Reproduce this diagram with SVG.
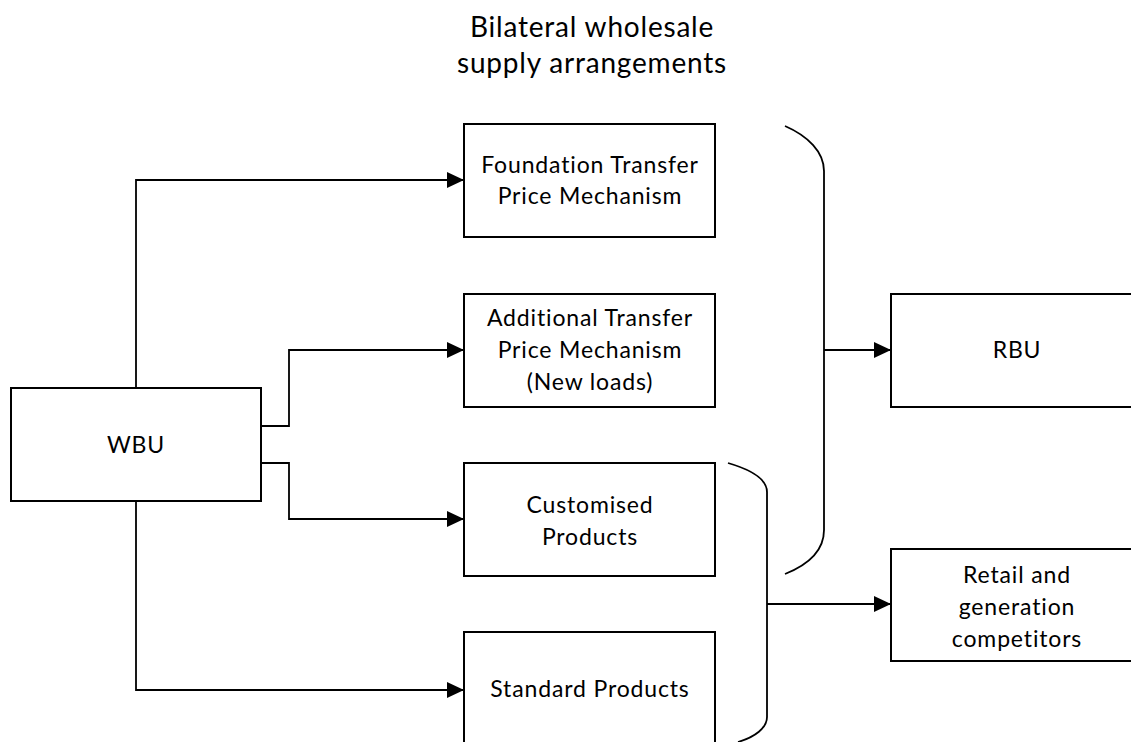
<svg xmlns="http://www.w3.org/2000/svg" width="1131" height="742" viewBox="0 0 1131 742">
<style>
.box{fill:#fff;stroke:#000;stroke-width:2}
.t{font-family:Lato,"Open Sans","Liberation Sans",sans-serif;font-size:23px;letter-spacing:0.85px;fill:#000;text-anchor:middle}
.title{font-size:28px;letter-spacing:0.8px}
.c{fill:none;stroke:#000;stroke-width:1.8}
</style>
<rect width="1131" height="742" fill="#fff"/>
<g id="title">
<text class="t title" x="592" y="37">Bilateral wholesale</text>
<text class="t title" x="592" y="73">supply arrangements</text>
</g>
<g id="connectors">
<polyline class="c" points="136,388 136,180 463,180"/>
<polyline class="c" points="261,426 289,426 289,350 463,350"/>
<polyline class="c" points="261,463 289,463 289,519 463,519"/>
<polyline class="c" points="136,502 136,690 463,690"/>
<path class="c" d="M785,126 C808,136 824,152 824,171 L824,530 C824,550 810,564 785,574"/>
<line class="c" x1="824" y1="350" x2="890" y2="350"/>
<path class="c" d="M728,463 C752,470 767,480 767,492 L767,717 C767,728 755,737 738,742"/>
<line class="c" x1="767" y1="604" x2="890" y2="604"/>
</g>
<g id="arrowheads">
<path d="M447,172 L464,180 L447,188 z"/>
<path d="M447,342 L464,350 L447,358 z"/>
<path d="M447,511 L464,519 L447,527 z"/>
<path d="M447,682 L464,690 L447,698 z"/>
<path d="M874,342 L891,350 L874,358 z"/>
<path d="M874,596 L891,604 L874,612 z"/>
</g>
<g id="node-foundation">
<rect class="box" x="464" y="124" width="251" height="113"/>
<text class="t" x="590" y="173">Foundation Transfer</text>
<text class="t" x="590" y="204">Price Mechanism</text>
</g>
<g id="node-additional">
<rect class="box" x="464" y="294" width="251" height="113"/>
<text class="t" x="590" y="326">Additional Transfer</text>
<text class="t" x="590" y="358">Price Mechanism</text>
<text class="t" x="590" y="390">(New loads)</text>
</g>
<g id="node-customised">
<rect class="box" x="464" y="463" width="251" height="113"/>
<text class="t" x="590" y="513">Customised</text>
<text class="t" x="590" y="545">Products</text>
</g>
<g id="node-standard">
<rect class="box" x="464" y="632" width="251" height="113"/>
<text class="t" x="590" y="697">Standard Products</text>
</g>
<g id="node-wbu">
<rect class="box" x="11" y="388" width="250" height="113"/>
<text class="t" x="136" y="453">WBU</text>
</g>
<g id="node-rbu">
<rect class="box" x="891" y="294" width="252" height="113"/>
<text class="t" x="1017" y="358">RBU</text>
</g>
<g id="node-retail">
<rect class="box" x="891" y="549" width="252" height="112"/>
<text class="t" x="1017" y="583">Retail and</text>
<text class="t" x="1017" y="615">generation</text>
<text class="t" x="1017" y="647">competitors</text>
</g>
</svg>
